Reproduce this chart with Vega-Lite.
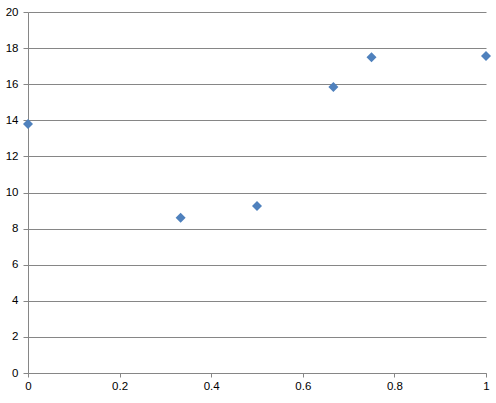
{
  "$schema": "https://vega.github.io/schema/vega-lite/v6.json",
  "width": 458,
  "height": 361,
  "autosize": {"type": "none"},
  "padding": {"left": 28, "top": 12, "right": 10, "bottom": 30},
  "background": "white",
  "config": {
    "view": {"stroke": null},
    "axis": {
      "labelFont": "Liberation Sans",
      "labelFontSize": 11.5,
      "labelColor": "#000000",
      "domainColor": "#868686",
      "tickColor": "#868686",
      "gridColor": "#868686",
      "gridOpacity": 1,
      "title": null
    }
  },
  "data": {
    "values": [
      {"x": 0, "y": 13.8},
      {"x": 0.3333, "y": 8.6},
      {"x": 0.5, "y": 9.25},
      {"x": 0.6667, "y": 15.85},
      {"x": 0.75, "y": 17.5},
      {"x": 1, "y": 17.56}
    ]
  },
  "mark": {"type": "point", "shape": "diamond", "filled": true, "color": "#4F81BD", "size": 100, "opacity": 1},
  "encoding": {
    "x": {
      "field": "x",
      "type": "quantitative",
      "scale": {"domain": [0, 1], "nice": false, "zero": true},
      "axis": {"values": [0, 0.2, 0.4, 0.6, 0.8, 1], "format": "~g", "grid": false, "tickSize": 4, "labelPadding": 3, "labelFlush": false}
    },
    "y": {
      "field": "y",
      "type": "quantitative",
      "scale": {"domain": [0, 20], "nice": false},
      "axis": {"values": [0, 2, 4, 6, 8, 10, 12, 14, 16, 18, 20], "grid": true, "tickSize": 5, "labelPadding": 5, "labelFlush": false}
    }
  }
}
